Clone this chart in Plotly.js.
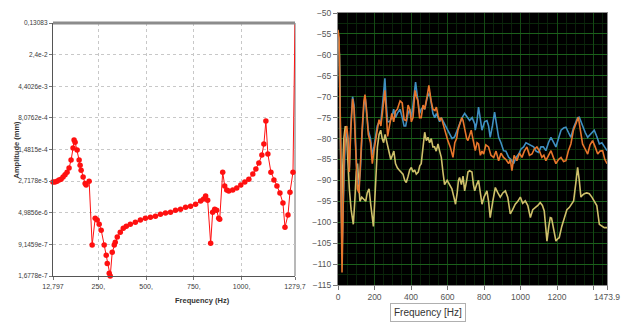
<!DOCTYPE html>
<html>
<head>
<meta charset="utf-8">
<script src="https://cdn.plot.ly/plotly-3.0.1.min.js"></script>
<style>html,body{margin:0;padding:0;background:#fff}#chart{width:624px;height:335px}</style>
</head>
<body>
<div id="chart"></div>
<script>
// ---- Left panel: amplitude (mm) vs frequency (Hz), log scale ----
const leftFreq = [12.8,23.3,33.8,44.3,54.9,65.4,75.9,86.4,96.9,107.4,117.9,123.2,128.5,139.0,149.5,154.7,160,170.5,181,186.3,202,217.8,233.6,244.1,254.6,265.1,280.9,291.4,296.7,307.2,312.4,322.9,333.5,338.7,349.2,365,380.8,396.6,417.6,443.9,470.2,496.4,522.7,549,575.3,601.6,627.9,654.2,680.4,706.7,733,759.3,785.6,801.4,811.9,822.4,838.1,848.7,859.2,869.7,880.2,885.5,901.2,911.7,922.3,932.8,953.8,974.8,995.9,1016.9,1038,1059,1074.8,1090.5,1106.3,1116.8,1127.3,1137.8,1153.6,1169.4,1185.1,1200.9,1216.6,1227.2,1242.9,1253.4,1269.2,1279.7];
const leftAmp = [2.6e-5,2.6e-5,2.7e-5,2.9e-5,3.0e-5,3.4e-5,3.8e-5,4.4e-5,5.5e-5,8.4e-5,1.6e-4,2.45e-4,2.2e-4,1.44e-4,8.4e-5,6.4e-5,4.9e-5,3.4e-5,2.4e-5,2.2e-5,2.7e-5,8.8e-7,3.7e-6,3.4e-6,2.7e-6,1.96e-6,8.8e-7,5.1e-7,3.3e-7,1.95e-7,1.68e-7,6.0e-7,8.8e-7,1.03e-6,1.35e-6,1.76e-6,2.18e-6,2.43e-6,2.7e-6,3.0e-6,3.4e-6,3.7e-6,3.9e-6,4.16e-6,4.63e-6,4.9e-6,5.15e-6,5.7e-6,6.05e-6,6.73e-6,7.1e-6,7.9e-6,9.3e-6,1.04e-5,1.22e-5,9.8e-6,9.7e-7,5.15e-6,6.05e-6,5.7e-6,3.7e-6,3.5e-6,4.4e-5,2.1e-5,1.7e-5,1.59e-5,1.7e-5,1.87e-5,2.2e-5,2.6e-5,3.0e-5,3.96e-5,5.18e-5,7.15e-5,1.1e-4,1.98e-4,6.8e-4,1.16e-4,4.4e-5,2.9e-5,2.1e-5,1.43e-5,8.4e-6,2.3e-6,4.4e-6,1.5e-5,4.4e-5,0.13083];
const leftYTickVals = [1.6778e-7,9.1459e-7,4.9856e-6,2.7178e-5,1.4815e-4,8.0762e-4,4.4026e-3,2.4e-2,0.13083];
const leftYTickText = ['1,6778e-7','9,1459e-7','4,9856e-6','2,7178e-5','1,4815e-4','8,0762e-4','4,4026e-3','2,4e-2','0,13083'];
const leftXTickVals = [12.797,250,500,750,1000,1279.7];
const leftXTickText = ['12,797','250,','500,','750,','1000,','1279,7'];

// ---- Right panel: spectra in dB ----
const blueFreq = [0,6,12,17,22,27,33,40,48,55,62,70,80,88,96,106,115,122,132,142,150,158,166,178,188,197,206,215,225,235,248,257,265,272,282,295,305,315,325,340,352,362,371,384,393,402,411,425,435,447,456,466,475,490,502,512,520,530,539,548,557,566,584,598,612,625,639,652,666,680,694,708,721,735,749,752,761,770,780,789,803,816,825,834,846,858,870,880,893,907,920,935,948,962,976,990,1003,1017,1030,1044,1058,1072,1085,1099,1112,1125,1139,1153,1167,1180,1194,1208,1222,1236,1249,1262,1276,1290,1304,1313,1322,1331,1340,1354,1368,1381,1395,1404,1418,1432,1446,1459,1474];
const blueDb = [-55,-57,-76,-96,-108,-98,-86,-80,-78,-81,-87,-77,-70,-72,-81,-90,-91,-88,-79,-72,-70.5,-74,-78,-80,-84,-82,-79,-77,-76,-76,-70,-65.6,-72,-76,-76,-75,-73,-75,-74,-73,-75,-77,-77,-74,-73,-75,-72,-66.5,-70,-74,-73,-72.5,-73,-70,-69,-72,-74,-75,-74,-75,-76,-75,-76.5,-78,-79,-80,-79.6,-78,-76.5,-75,-74,-75,-75.7,-75,-76.5,-78,-76,-72.5,-76,-78,-76,-75.7,-77,-79.7,-77,-73.7,-77,-79.7,-81,-82.9,-83,-84.5,-85,-86,-84.5,-83.7,-82.5,-82,-81,-81.3,-81.5,-82,-83,-83.3,-82,-82,-82.9,-81,-79.7,-81,-82,-80,-78,-77.5,-77.3,-78.5,-79.7,-77.5,-75.7,-75,-74.9,-76,-77.3,-78.5,-79.7,-79,-78.5,-78,-79.5,-81.3,-81,-82,-82.9];

const orangeFreq = [0,6,12,17,22,27,33,40,48,55,62,70,80,88,96,106,115,122,132,142,148,156,166,178,188,197,206,215,225,235,248,257,265,272,282,295,305,315,325,340,352,362,374,384,393,402,411,422,430,438,447,456,466,475,488,498,510,520,531,539,548,557,566,575,588,602,615,624,630,640,650,657,668,678,685,695,705,712,722,730,739,752,762,770,780,789,798,810,825,838,853,866,880,893,907,920,935,944,953,965,980,994,1008,1021,1035,1049,1063,1076,1090,1104,1117,1128,1139,1153,1167,1180,1194,1208,1222,1236,1249,1262,1276,1290,1304,1317,1328,1340,1354,1368,1381,1395,1409,1423,1436,1450,1462,1474];
const orangeDb = [-54,-56,-75,-95,-112,-100,-85,-79,-77,-80,-88,-78,-70.5,-73,-82,-92,-93,-86,-78,-71,-69.5,-73,-79,-81,-86,-83,-80,-78,-75.5,-77,-72,-68.5,-74,-79.5,-77,-74,-76,-73.5,-73,-71,-71.5,-75.5,-75.7,-72,-73,-76,-75,-68.5,-70,-71,-75,-75,-72,-73,-70,-67.3,-71,-73,-73.3,-72.5,-74.5,-75.7,-75,-76.5,-78,-80.5,-82,-84,-84.5,-81,-80,-78,-76.5,-75,-75.7,-78,-80,-80.5,-79,-78,-80,-82.9,-81,-81.3,-84,-83,-83.7,-81.5,-82,-84,-84.5,-83,-85.3,-83.5,-84.5,-85,-86,-85,-87.7,-84,-85.3,-83.5,-84.5,-83,-82,-84,-83.7,-82.5,-82,-83,-84.5,-84,-85.3,-84,-82.9,-84.5,-86,-85,-84.5,-85.5,-85.3,-83,-81.3,-78,-76.5,-74.9,-78,-81.3,-82.5,-83.7,-81.5,-80.5,-82,-83.7,-83,-82.9,-85,-86];

const yellowFreq = [0,8,14,20,25,32,40,48,55,62,72,84,92,100,107,114,120,130,140,152,160,170,180,188,194,200,208,216,225,234,242,250,258,267,278,289,298,306,315,325,335,345,356,366,374,384,393,402,411,420,429,440,448,456,466,475,484,493,502,511,520,529,538,548,557,566,575,584,598,612,624,635,644,653,660,666,676,685,694,705,712,721,734,742,749,760,770,780,789,800,816,825,834,848,862,876,889,903,917,930,944,957,971,985,999,1012,1026,1040,1054,1067,1081,1095,1108,1120,1130,1145,1155,1163,1170,1176,1185,1194,1203,1212,1226,1240,1254,1267,1280,1291,1302,1313,1322,1331,1340,1349,1363,1377,1391,1404,1418,1432,1446,1459,1474];
const yellowDb = [-56,-60,-80,-100,-88,-80,-77,-80,-86,-92,-97,-100.5,-95,-88,-86,-90,-95,-94,-94.5,-95,-93,-92,-96,-100,-101,-96,-88,-82,-79,-78,-80,-81,-79,-81,-83,-85,-84,-83,-86,-87,-87.5,-88,-88.5,-90,-90.5,-89,-87.5,-86.9,-88,-87.5,-88.5,-88,-86.5,-86,-82,-78.5,-80.5,-79.7,-81,-80,-82,-82,-83,-81.3,-83,-84.5,-88,-91,-90,-91,-92,-94,-95.7,-93,-90,-89.3,-91,-89,-92.5,-90,-88,-87.7,-88,-91,-92.5,-91,-90,-93,-95.7,-94,-92.5,-95,-98.9,-95,-91.7,-93,-94,-93,-92.5,-94,-98,-97,-95.7,-95,-94,-95.5,-94.9,-96,-98.9,-97,-96.5,-96,-95.3,-96,-97.3,-104.5,-101,-98.9,-99,-100.5,-103,-104.5,-104,-103.7,-101,-98.9,-97,-96.5,-95.5,-94.9,-91,-86.9,-90,-94,-93.5,-93.2,-93,-93.2,-94,-94.9,-96,-100.5,-101,-101.3,-101.3];

const rightXTickVals = [0,200,400,600,800,1000,1200,1400,1473.9];
const rightXTickText = ['0','200','400','600','800','1000','1200','','1473.9'];

const narrow = "'Liberation Sans Narrow','Liberation Sans',Arial,sans-serif";

const traces = [
  {x: leftFreq, y: leftAmp, xaxis:'x', yaxis:'y', mode:'lines+markers', type:'scatter',
   line:{color:'#ff1010', width:1}, marker:{color:'#ff1010', size:5.5}, cliponaxis:false, hoverinfo:'skip'},
  {x: yellowFreq, y: yellowDb, xaxis:'x2', yaxis:'y2', mode:'lines', type:'scatter',
   line:{color:'#cfc06a', width:1.6}, hoverinfo:'skip'},
  {x: blueFreq, y: blueDb, xaxis:'x2', yaxis:'y2', mode:'lines', type:'scatter',
   line:{color:'#3f8fc2', width:1.6}, hoverinfo:'skip'},
  {x: orangeFreq, y: orangeDb, xaxis:'x2', yaxis:'y2', mode:'lines', type:'scatter',
   line:{color:'#e8762c', width:1.6}, hoverinfo:'skip'}
];

const layout = {
  width:624, height:335,
  margin:{l:0,r:0,t:0,b:0},
  paper_bgcolor:'#ffffff', plot_bgcolor:'rgba(0,0,0,0)',
  showlegend:false,
  font:{family:narrow, size:8, color:'#444'},
  xaxis:{domain:[53/624, 295/624], anchor:'y', range:[12.797,1279.7],
    tickmode:'array', tickvals:leftXTickVals, ticktext:leftXTickText,
    tickfont:{size:7, color:'#3a3a3a', family:narrow},
    showgrid:true, gridcolor:'#c8c8c8', griddash:'dot', gridwidth:1,
    showline:true, linecolor:'#555', linewidth:1.2, mirror:false,
    ticks:'outside', ticklen:3, tickcolor:'#777', zeroline:false},
  yaxis:{domain:[1-276/335, 1-23/335], anchor:'x', type:'log',
    range:[Math.log10(1.6778e-7), Math.log10(0.13083)],
    tickmode:'array', tickvals:leftYTickVals, ticktext:leftYTickText,
    tickfont:{size:6.5, color:'#3a3a3a', family:narrow},
    showgrid:true, gridcolor:'#c8c8c8', griddash:'dot', gridwidth:1,
    showline:true, linecolor:'#555', linewidth:1.2,
    ticks:'outside', ticklen:3, tickcolor:'#777', zeroline:false},
  xaxis2:{domain:[338/624, 607/624], anchor:'y2', range:[0,1473.9],
    tickmode:'array', tickvals:rightXTickVals, ticktext:rightXTickText,
    tickfont:{size:8.5, color:'#555', family:narrow},
    showgrid:true, gridcolor:'#144a14', gridwidth:1,
    minor:{dtick:50, showgrid:true, gridcolor:'#0a200a', gridwidth:1},
    showline:true, linecolor:'#8a8a8a', linewidth:1, mirror:true,
    ticks:'outside', ticklen:4, tickcolor:'#777', zeroline:false},
  yaxis2:{domain:[1-285/335, 1-13/335], anchor:'x2', range:[-115,-50],
    tickmode:'linear', tick0:-115, dtick:5,
    tickfont:{size:8.5, color:'#555', family:narrow},
    showgrid:true, gridcolor:'#1b601b', gridwidth:1,
    minor:{dtick:2.5, showgrid:true, gridcolor:'#0b280b', gridwidth:1},
    showline:true, linecolor:'#8a8a8a', linewidth:1, mirror:true,
    ticks:'outside', ticklen:4, tickcolor:'#777', zeroline:false},
  shapes:[
    {type:'rect', xref:'x2 domain', yref:'y2 domain', x0:0, x1:1, y0:0, y1:1,
     fillcolor:'#000000', line:{width:0}, layer:'below'},
    {type:'line', xref:'x domain', yref:'y domain', x0:0, x1:1, y0:1, y1:1,
     line:{color:'#8c8c8c', width:3}, layer:'above'},
    {type:'line', xref:'x domain', yref:'y domain', x0:1, x1:1, y0:0, y1:1,
     line:{color:'#a0a0a0', width:1.5}, layer:'below'}
  ],
  annotations:[
    {text:'<b>Amplitude (mm)</b>', xref:'paper', yref:'paper', x:9/624, y:1-150/335,
     textangle:-90, showarrow:false, font:{size:7.5, color:'#333', family:narrow}},
    {text:'<b>Frequency (Hz)</b>', xref:'paper', yref:'paper', x:173/624, y:1-307/335,
     showarrow:false, font:{size:7.5, color:'#333', family:narrow}},
    {text:'Frequency [Hz]', xref:'paper', yref:'paper', x:466/624, y:1-322/335,
     showarrow:false, font:{size:10, color:'#333', family:narrow},
     bordercolor:'#b0b0b0', borderwidth:1, borderpad:3, bgcolor:'#ffffff'}
  ]
};

Plotly.newPlot('chart', traces, layout, {staticPlot:true, displayModeBar:false});
</script>
</body>
</html>
